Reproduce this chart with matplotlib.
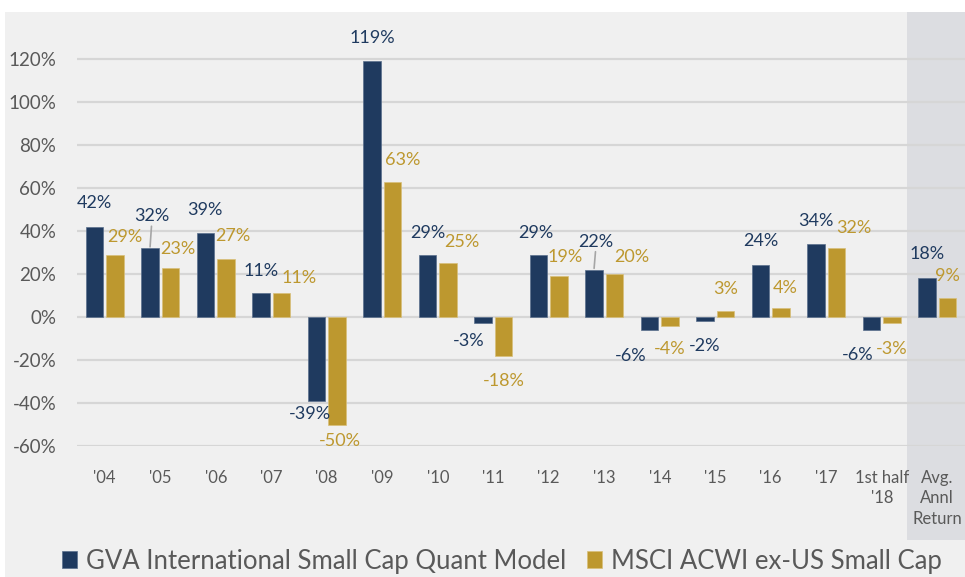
import matplotlib.pyplot as plt
from matplotlib.patches import Rectangle
from matplotlib.transforms import blended_transform_factory

plt.rcParams['font.family'] = ['Lato', 'DejaVu Sans']

# Datos del gráfico
categorias = ["'04", "'05", "'06", "'07", "'08", "'09", "'10", "'11", "'12",
              "'13", "'14", "'15", "'16", "'17", "1st half\n'18",
              "Avg.\nAnnl\nReturn"]
gva = [42, 32, 39, 11, -39, 119, 29, -3, 29, 22, -6, -2, 24, 34, -6, 18]
msci = [29, 23, 27, 11, -50, 63, 25, -18, 19, 20, -4, 3, 4, 32, -3, 9]
nombres = ['GVA International Small Cap Quant Model', 'MSCI ACWI ex-US Small Cap']

# Desplazamiento de las etiquetas (pixeles, y hacia abajo)
off_gva = [(0, -24), (2, -32), (-1, -23), (0, -22), (-7, 13), (0, -23),
           (0, -22), (-14, 18), (-3, -22), (2, -28), (-19, 26), (0, 25),
           (0, -24), (0, -23), (-14, 25), (0, -24)]
off_msci = [(10, -18), (7, -19), (7, -23), (18, -15), (3, 16), (10, -22),
            (14, -21), (0, 25), (6, -19), (17, -17), (0, 23), (0, -22),
            (4, -20), (17, -20), (0, 26), (0, -22)]
lideres = [1, 9]  # etiquetas con línea guía

azul = '#1f3a5f'
oro = '#bd982f'
gris_txt = '#595959'

fig = plt.figure(figsize=(9.65, 5.77), dpi=100, facecolor='white')
fig.patches.append(Rectangle((5 / 965, 0), 1, 1 - 12 / 577, transform=fig.transFigure,
                             facecolor='#f0f0f0', edgecolor='none', zorder=-10))
ax = fig.add_axes([77 / 965, 1 - 446 / 577, 1 - 77 / 965, 434 / 577])
ax.set_facecolor('none')

x = list(range(len(categorias)))
w = 0.315
d = 0.185
ax.bar([i - d for i in x], gva, w, color=azul, edgecolor='#5a6f8c', linewidth=0.5, zorder=3, label=nombres[0])
ax.bar([i + d for i in x], msci, w, color=oro, edgecolor='#d8c07a', linewidth=0.5, zorder=3, label=nombres[1])

# Zona sombreada del promedio
tr = blended_transform_factory(ax.transData, fig.transFigure)
ax.add_patch(Rectangle((14.45, 1 - 540 / 577), 2, (540 - 12) / 577, transform=tr,
                       facecolor='#dcdde1', edgecolor='none', zorder=0, clip_on=False))

k = 0.72
for i in x:
    for val, off, col, sx in ((gva[i], off_gva[i], azul, -d), (msci[i], off_msci[i], oro, d)):
        ax.annotate(f'{val}%', (i + sx, val), xytext=(off[0] * k, -off[1] * k),
                    textcoords='offset points', ha='center', va='center',
                    color=col, fontsize=13, zorder=5)
for i in lideres:
    ax.annotate('', (i - d, gva[i]), xytext=(1.5 * k, (-off_gva[i][1] - 10) * k),
                textcoords='offset points',
                arrowprops=dict(arrowstyle='-', color='#a6a6a6', lw=1.2, shrinkA=0, shrinkB=1))

ax.set_xlim(-0.5, 15.5)
ax.set_ylim(-60, 141.9)
ax.set_yticks(range(-60, 121, 20))
ax.set_yticklabels([f'{v}%' for v in range(-60, 121, 20)])
ax.set_xticks(x)
ax.set_xticklabels(categorias, linespacing=1.35)
ax.tick_params(axis='y', length=0, pad=15, labelsize=13.5, labelcolor=gris_txt)
ax.tick_params(axis='x', length=0, pad=17, labelsize=12, labelcolor=gris_txt)
ax.grid(axis='y', color='#d6d6d6', linewidth=1.6, zorder=1)
ax.set_axisbelow(True)
for s in ax.spines.values():
    s.set_visible(False)

fig.legend(loc='center', bbox_to_anchor=(0.52, 1 - 561 / 577), ncol=2, frameon=False,
           fontsize=18.5, labelcolor=gris_txt, handlelength=0.6, handleheight=0.6,
           handletextpad=0.33, columnspacing=0.8, borderaxespad=0, borderpad=0)

plt.savefig('out.png', dpi=100, facecolor=fig.get_facecolor())
